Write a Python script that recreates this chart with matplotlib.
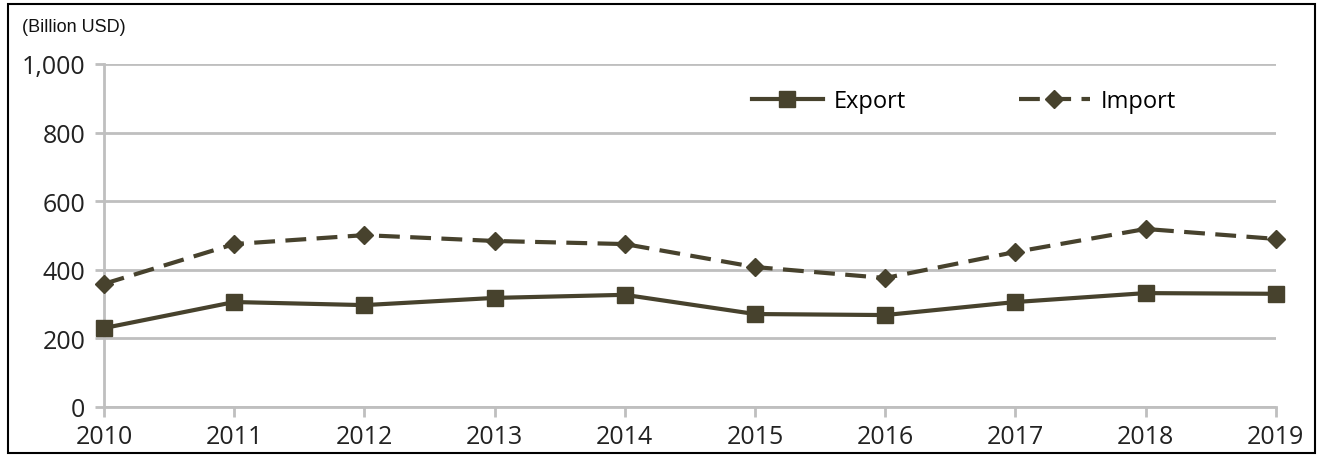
import numpy as np
import matplotlib.pyplot as plt
from matplotlib.patches import Rectangle

years = [2010, 2011, 2012, 2013, 2014, 2015, 2016, 2017, 2018, 2019]
export_vals = [230, 306, 297, 318, 327, 271, 268, 306, 332, 330]
import_vals = [359, 475, 501, 484, 475, 408, 376, 452, 519, 490]
y_ticks = [0, 200, 400, 600, 800, 1000]

line_col = '#47422d'
grid_col = '#bfbfbf'

plt.rcParams['font.family'] = ['Open Sans', 'DejaVu Sans']

fig = plt.figure(figsize=(13.18, 4.56), dpi=100)
ax = fig.add_axes([0.0789, 0.1053, 0.968 - 0.0789, 0.8575 - 0.1053])

ax.plot(years, export_vals, color=line_col, lw=3, marker='s', ms=11, label='Export', clip_on=False, zorder=3)
ax.plot(years, import_vals, color=line_col, lw=3, ls=(0, (5, 2.5)), marker='D', ms=9, label='Import', clip_on=False, zorder=3)

ax.set_xlim(2010, 2019)
ax.set_ylim(0, 1000)
ax.set_xticks(years)
ax.set_yticks(y_ticks)
ax.set_yticklabels(['{:,}'.format(v) for v in y_ticks])
ax.yaxis.grid(True, color=grid_col, lw=2)
ax.set_axisbelow(True)
for s in ['top', 'right']:
    ax.spines[s].set_visible(False)
for s in ['left', 'bottom']:
    ax.spines[s].set_color(grid_col)
    ax.spines[s].set_linewidth(2)
ax.tick_params(axis='both', colors=grid_col, width=2, labelcolor='#222222', labelsize=18)
ax.tick_params(axis='x', length=7, pad=5.5)
ax.tick_params(axis='y', length=6.5, pad=7)

ax.legend(loc='center left', bbox_to_anchor=(0.553, 0.892), ncol=2, frameon=False,
          borderaxespad=0, borderpad=0,
          fontsize=17, handlelength=3, columnspacing=4.8, handletextpad=0.45)

fig.text(0.0167, 0.94, '(Billion USD)', fontsize=13, family='Liberation Sans', va='center', color='#111111')

fig.patches.append(Rectangle((0.006, 0.004), 0.992, 0.984, transform=fig.transFigure,
                             fill=False, edgecolor='black', lw=1.5))

fig.savefig('out.png', dpi=100)
